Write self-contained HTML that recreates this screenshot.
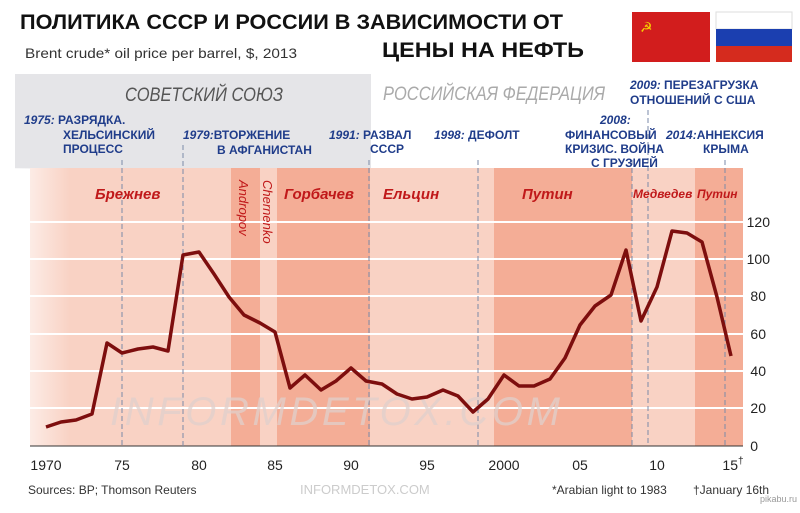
<!DOCTYPE html>
<html><head><meta charset="utf-8"><style>
body{margin:0;width:800px;height:508px;background:#fff;overflow:hidden;font-family:"Liberation Sans",sans-serif}
</style></head><body>
<svg width="800" height="508" xmlns="http://www.w3.org/2000/svg" font-family="Liberation Sans, DejaVu Sans, sans-serif">
<defs>
<linearGradient id="fade" x1="0" x2="1" y1="0" y2="0">
<stop offset="0" stop-color="#fff" stop-opacity="1"/><stop offset="1" stop-color="#fff" stop-opacity="0"/></linearGradient>
</defs>
<rect x="15" y="74" width="356" height="95" fill="#e5e5e8"/>
<g>
<rect x="30" y="168" width="201" height="278" fill="#f9d2c4"/>
<rect x="231" y="168" width="29" height="278" fill="#f4ad96"/>
<rect x="260" y="168" width="17" height="278" fill="#f9d2c4"/>
<rect x="277" y="168" width="93" height="278" fill="#f4ad96"/>
<rect x="370" y="168" width="124" height="278" fill="#f9d2c4"/>
<rect x="494" y="168" width="138" height="278" fill="#f4ad96"/>
<rect x="632" y="168" width="63" height="278" fill="#f9d2c4"/>
<rect x="695" y="168" width="48" height="278" fill="#f4ad96"/>
</g>
<rect x="0" y="168" width="70" height="280" fill="url(#fade)"/>
<g stroke="#fff" stroke-width="2">
<line x1="30" x2="743" y1="222" y2="222"/><line x1="30" x2="743" y1="259" y2="259"/>
<line x1="30" x2="743" y1="296" y2="296"/><line x1="30" x2="743" y1="334" y2="334"/>
<line x1="30" x2="743" y1="371" y2="371"/><line x1="30" x2="743" y1="408" y2="408"/>
</g>
<line x1="30" x2="743" y1="446" y2="446" stroke="#333" stroke-width="1"/>
<g stroke="#7a8aa8" stroke-width="1" stroke-dasharray="5,3">
<line x1="122" x2="122" y1="160" y2="446"/><line x1="183" x2="183" y1="145" y2="446"/>
<line x1="369" x2="369" y1="160" y2="446"/><line x1="478" x2="478" y1="160" y2="446"/>
<line x1="632" x2="632" y1="160" y2="446"/><line x1="648" x2="648" y1="110" y2="446"/>
<line x1="725" x2="725" y1="160" y2="446"/>
</g>
<text x="110" y="425" font-size="40" font-style="italic" fill="#e0d0cc" opacity="0.75" textLength="450">INFORMDETOX.COM</text>
<polyline fill="none" stroke="#7d0e0e" stroke-width="3.5" stroke-linejoin="round" points="46,427 61,422 76,420 92,414 107,343 122,353 138,349 153,347 168,351 183,255 199,252 214,274 229,297 244,315 260,323 275,332 290,388 305,375 321,390 336,381 351,368 366,381 382,384 397,394 412,399 427,397 443,390 458,396 473,412 488,399 504,375 519,386 534,386 550,379 565,358 580,325 595,306 611,295 626,250 641,321 657,287 672,231 687,233 702,242 717,297 731,356"/>
<g font-size="14" fill="#222" text-anchor="end">
<text x="770" y="227">120</text><text x="770" y="264">100</text><text x="766" y="301">80</text>
<text x="766" y="339">60</text><text x="766" y="376">40</text><text x="766" y="413">20</text><text x="758" y="451">0</text>
</g>
<g font-size="14" fill="#222" text-anchor="middle">
<text x="46" y="470">1970</text><text x="122" y="470">75</text><text x="199" y="470">80</text>
<text x="275" y="470">85</text><text x="351" y="470">90</text><text x="427" y="470">95</text>
<text x="504" y="470">2000</text><text x="580" y="470">05</text><text x="657" y="470">10</text><text x="733" y="470">15<tspan font-size="10" dy="-6">†</tspan></text>
</g>
<text x="20" y="29" font-size="21" font-weight="bold" fill="#111" textLength="543" lengthAdjust="spacingAndGlyphs">ПОЛИТИКА СССР И РОССИИ В ЗАВИСИМОСТИ ОТ</text>
<text x="382" y="57" font-size="21" font-weight="bold" fill="#111" textLength="202" lengthAdjust="spacingAndGlyphs">ЦЕНЫ НА НЕФТЬ</text>
<text x="25" y="58" font-size="14" fill="#333" textLength="272" lengthAdjust="spacingAndGlyphs">Brent crude* oil price per barrel, $, 2013</text>
<text x="125" y="101" font-size="19" font-style="italic" fill="#555" textLength="158" lengthAdjust="spacingAndGlyphs">СОВЕТСКИЙ СОЮЗ</text>
<text x="383" y="100" font-size="19" font-style="italic" fill="#aaa" textLength="222" lengthAdjust="spacingAndGlyphs">РОССИЙСКАЯ ФЕДЕРАЦИЯ</text>
<g font-size="12" font-weight="bold" font-style="italic" fill="#1f3c8a">
<text x="24" y="124">1975: <tspan font-style="normal">РАЗРЯДКА.</tspan></text>
<text x="63" y="139" font-style="normal">ХЕЛЬСИНСКИЙ</text><text x="63" y="153" font-style="normal">ПРОЦЕСС</text>
<text x="183" y="139">1979:<tspan font-style="normal">ВТОРЖЕНИЕ</tspan></text><text x="217" y="154" font-style="normal">В АФГАНИСТАН</text>
<text x="329" y="139">1991: <tspan font-style="normal">РАЗВАЛ</tspan></text><text x="370" y="153" font-style="normal">СССР</text>
<text x="434" y="139">1998: <tspan font-style="normal">ДЕФОЛТ</tspan></text>
<text x="600" y="124">2008:</text>
<text x="565" y="139" font-style="normal">ФИНАНСОВЫЙ</text><text x="565" y="153" font-style="normal">КРИЗИС. ВОЙНА</text><text x="591" y="167" font-style="normal">С ГРУЗИЕЙ</text>
<text x="630" y="89">2009: <tspan font-style="normal">ПЕРЕЗАГРУЗКА</tspan></text><text x="630" y="104" font-style="normal">ОТНОШЕНИЙ С США</text>
<text x="666" y="139">2014:<tspan font-style="normal">АННЕКСИЯ</tspan></text><text x="703" y="153" font-style="normal">КРЫМА</text>
</g>
<g font-weight="bold" font-style="italic" fill="#c0191a">
<text x="95" y="199" font-size="15">Брежнев</text>
<text x="284" y="199" font-size="15">Горбачев</text>
<text x="383" y="199" font-size="15">Ельцин</text>
<text x="522" y="199" font-size="15">Путин</text>
<text x="633" y="198" font-size="12">Медведев</text>
<text x="697" y="198" font-size="12">Путин</text>
<text transform="translate(239,180) rotate(90)" font-size="13" font-weight="normal">Andropov</text>
<text transform="translate(263,180) rotate(90)" font-size="13" font-weight="normal">Chernenko</text>
</g>
<text x="28" y="494" font-size="12" fill="#333">Sources: BP; Thomson Reuters</text>
<text x="300" y="494" font-size="13" fill="#ccc">INFORMDETOX.COM</text>
<text x="552" y="494" font-size="12" fill="#333">*Arabian light to 1983</text>
<text x="693" y="494" font-size="12" fill="#333">†January 16th</text>
<rect x="632" y="12" width="78" height="50" fill="#d21d1d"/>
<text x="640" y="32" font-size="14" fill="#f5d000">☭</text>
<rect x="716" y="12" width="76" height="17" fill="#fff" stroke="#ddd"/>
<rect x="716" y="29" width="76" height="17" fill="#1b3fb0"/>
<rect x="716" y="46" width="76" height="16" fill="#d52b1e"/>
<text x="760" y="502" font-size="9" fill="#999">pikabu.ru</text>
</svg>
</body></html>
